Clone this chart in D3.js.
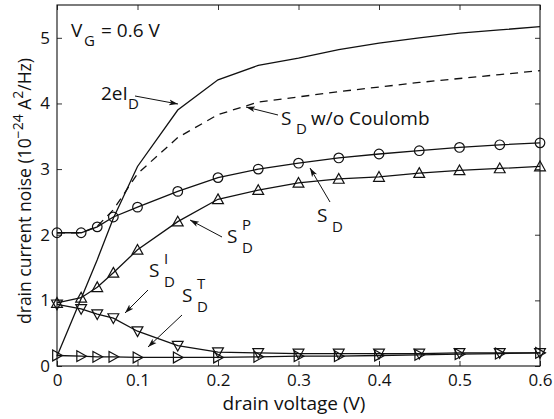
<!DOCTYPE html>
<html lang="en">
<head>
<meta charset="UTF-8">
<title>drain current noise vs drain voltage</title>
<script src="https://cdn.jsdelivr.net/npm/d3@7"></script>
<style>
  body { margin: 0; background: #fff; }
  svg { display: block; font-family: "Open Sans", sans-serif; }
  .tick text { font-size: 17px; fill: #111; }
</style>
</head>
<body>
<svg id="chart" width="554" height="419"></svg>
<script>
// drain voltage samples (V)
const vd = [0, 0.03, 0.05, 0.07, 0.1, 0.15, 0.2, 0.25, 0.3, 0.35, 0.4, 0.45, 0.5, 0.55, 0.6];
// noise values, 1e-24 A^2/Hz
const shot2eId = [0.15, 1.03, 1.62, 2.25, 3.04, 3.9, 4.36, 4.58, 4.69, 4.82, 4.92, 5.0, 5.07, 5.12, 5.17];
const sdNoCoulomb = [2.03, 2.03, 2.13, 2.38, 2.93, 3.48, 3.83, 4.02, 4.1, 4.18, 4.25, 4.32, 4.38, 4.44, 4.5];
const sd = [2.03, 2.03, 2.12, 2.27, 2.42, 2.66, 2.87, 3.0, 3.09, 3.17, 3.23, 3.28, 3.33, 3.37, 3.4];
const sdP = [0.96, 1.04, 1.2, 1.42, 1.77, 2.2, 2.54, 2.68, 2.79, 2.85, 2.88, 2.94, 2.98, 3.01, 3.04];
const sdI = [0.94, 0.87, 0.79, 0.73, 0.53, 0.31, 0.21, 0.2, 0.19, 0.19, 0.19, 0.19, 0.2, 0.2, 0.2];
const sdT = [0.16, 0.15, 0.14, 0.14, 0.13, 0.13, 0.13, 0.14, 0.15, 0.15, 0.16, 0.17, 0.18, 0.19, 0.2];
const xTicks = [0, 0.1, 0.2, 0.3, 0.4, 0.5, 0.6];
const yTicks = [0, 1, 2, 3, 4, 5];

const pLeft = 57, pRight = 540, pTop = 5, pBottom = 366;
const svg = d3.select("#chart");

const x = d3.scaleLinear().domain([0, 0.6]).range([pLeft, pRight]);
const y = d3.scaleLinear().domain([0, 5.5]).range([pBottom, pTop]);

// axes, ticks pointing inward on all four sides
svg.append("g").attr("transform", `translate(0,${pBottom})`)
  .call(d3.axisBottom(x).tickValues(xTicks).tickFormat(d3.format("")).tickSizeInner(-5).tickSizeOuter(0).tickPadding(8))
  .call(g => g.select(".domain").remove());
svg.append("g").attr("transform", `translate(0,${pTop})`)
  .call(d3.axisTop(x).tickValues(xTicks).tickFormat("").tickSizeInner(-5).tickSizeOuter(0))
  .call(g => g.select(".domain").remove());
svg.append("g").attr("transform", `translate(${pLeft},0)`)
  .call(d3.axisLeft(y).tickValues(yTicks).tickFormat(d3.format("d")).tickSizeInner(-5).tickSizeOuter(0).tickPadding(7))
  .call(g => g.select(".domain").remove());
svg.append("g").attr("transform", `translate(${pRight},0)`)
  .call(d3.axisRight(y).tickValues(yTicks).tickFormat("").tickSizeInner(-5).tickSizeOuter(0))
  .call(g => g.select(".domain").remove());
svg.selectAll(".tick line").attr("stroke", "#333");
svg.selectAll(".tick text").attr("font-family", "Open Sans").attr("fill", "#111");

svg.append("rect")
  .attr("x", pLeft).attr("y", pTop).attr("width", pRight - pLeft).attr("height", pBottom - pTop)
  .attr("fill", "none").attr("stroke", "#111").attr("stroke-width", 1.1);

const line = d3.line().x((d, i) => x(vd[i])).y(d => y(d));

function drawLine(vals, dash) {
  svg.append("path").datum(vals)
    .attr("d", line)
    .attr("fill", "none")
    .attr("stroke", "#111")
    .attr("stroke-width", 1.3)
    .attr("stroke-dasharray", dash || null);
}

const tri = {
  up: s => `M0,${-s}L${s},${s * 0.8}L${-s},${s * 0.8}Z`,
  down: s => `M0,${s}L${s},${-s * 0.8}L${-s},${-s * 0.8}Z`,
  right: s => `M${s},0L${-s * 0.8},${s}L${-s * 0.8},${-s}Z`
};

function drawMarkers(vals, kind) {
  const g = svg.append("g");
  vals.forEach((v, i) => {
    if (kind === "circle") {
      g.append("circle").attr("cx", x(vd[i])).attr("cy", y(v)).attr("r", 4.8)
        .attr("fill", "none").attr("stroke", "#111").attr("stroke-width", 1.2);
    } else {
      g.append("path").attr("d", tri[kind](5.4))
        .attr("transform", `translate(${x(vd[i])},${y(v)})`)
        .attr("fill", "none").attr("stroke", "#111").attr("stroke-width", 1.2);
    }
  });
}

drawLine(shot2eId);
drawLine(sdNoCoulomb, "8,6");
drawLine(sd); drawMarkers(sd, "circle");
drawLine(sdP); drawMarkers(sdP, "up");
drawLine(sdI); drawMarkers(sdI, "down");
drawLine(sdT); drawMarkers(sdT, "right");

// arrowheads
svg.append("defs").append("marker")
  .attr("id", "arrow").attr("viewBox", "0 0 10 10").attr("refX", 10).attr("refY", 5)
  .attr("markerWidth", 9).attr("markerHeight", 9).attr("markerUnits", "userSpaceOnUse")
  .attr("orient", "auto")
  .append("path").attr("d", "M0,1.8L10,5L0,8.2L2.5,5Z").attr("fill", "#111");

const arrows = [
  [135, 96, 178, 104],
  [278, 115, 246, 107],
  [330, 202, 310, 168],
  [222, 237, 190, 220],
  [148, 290, 125, 313],
  [182, 315, 148, 347]
];
svg.append("g").selectAll("line").data(arrows).join("line")
  .attr("x1", d => d[0]).attr("y1", d => d[1]).attr("x2", d => d[2]).attr("y2", d => d[3])
  .attr("stroke", "#111").attr("stroke-width", 1)
  .attr("marker-end", "url(#arrow)");

// labels S with sub/superscripts
function sLabel(xp, yp, sup, sub) {
  const t = svg.append("text").attr("x", xp).attr("y", yp)
    .attr("font-size", 19).attr("fill", "#111");
  t.append("tspan").text("S");
  if (sup) t.append("tspan").attr("x", xp + 15).attr("y", yp - 13).attr("font-size", 15).text(sup);
  if (sub) t.append("tspan").attr("x", xp + 15).attr("y", yp + 10).attr("font-size", 15).text(sub);
  return t;
}

const vg = svg.append("text").attr("x", 71).attr("y", 37).attr("font-size", 19).attr("fill", "#111");
vg.append("tspan").text("V");
vg.append("tspan").attr("x", 84).attr("y", 46).attr("font-size", 15).text("G");
vg.append("tspan").attr("x", 101).attr("y", 37).text("= 0.6 V");

const ei = svg.append("text").attr("x", 101).attr("y", 100).attr("font-size", 19).attr("fill", "#111");
ei.append("tspan").text("2eI");
ei.append("tspan").attr("x", 128).attr("y", 109).attr("font-size", 15).text("D");

const wc = svg.append("text").attr("x", 281).attr("y", 125).attr("font-size", 19).attr("fill", "#111");
wc.append("tspan").text("S");
wc.append("tspan").attr("x", 296).attr("y", 134).attr("font-size", 15).text("D");
wc.append("tspan").attr("x", 311).attr("y", 125).text("w/o Coulomb");

sLabel(317, 222, null, "D");
sLabel(227, 243, "P", "D");
sLabel(149, 277, "I", "D");
sLabel(182, 302, "T", "D");

// axis titles
svg.append("text").attr("x", 294).attr("y", 410).attr("text-anchor", "middle")
  .attr("font-size", 19).attr("fill", "#111").text("drain voltage (V)");

const yl = svg.append("text").attr("transform", "translate(31,191) rotate(-90)")
  .attr("text-anchor", "middle").attr("font-size", 17.5).attr("fill", "#111");
yl.append("tspan").text("drain current noise (10");
yl.append("tspan").attr("dy", -8).attr("font-size", 14).text("\u221224");
yl.append("tspan").attr("dy", 8).text(" A");
yl.append("tspan").attr("dy", -8).attr("font-size", 14).text("2");
yl.append("tspan").attr("dy", 8).text("/Hz)");
</script>
</body>
</html>
